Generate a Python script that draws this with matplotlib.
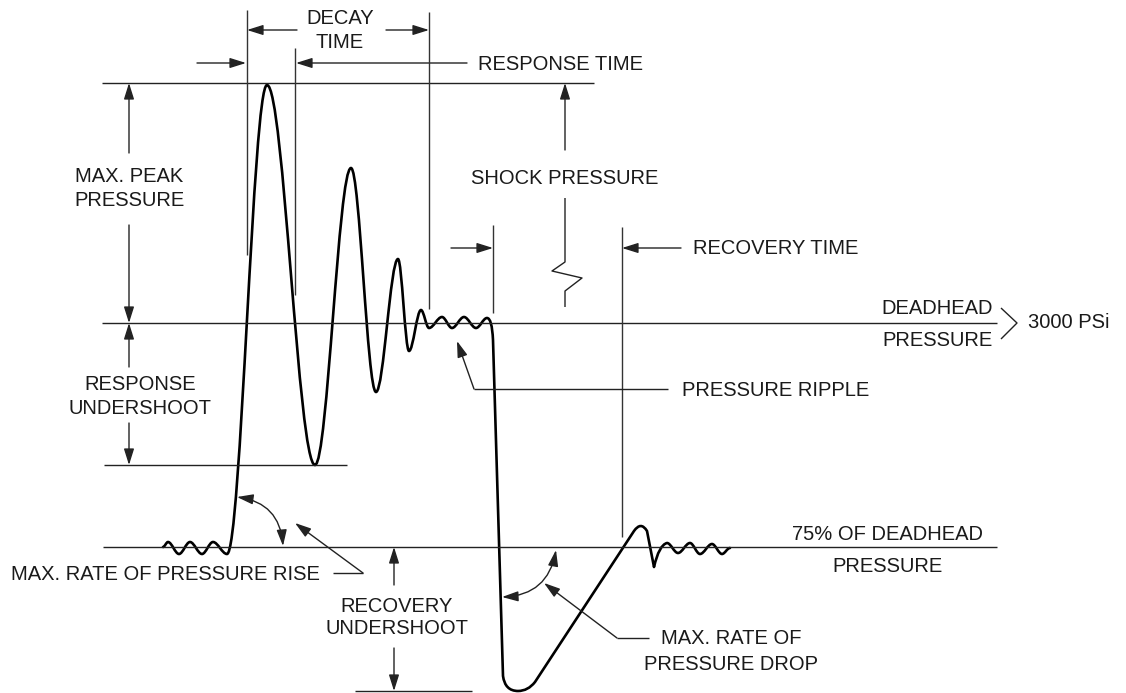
import numpy as np
import matplotlib
matplotlib.use('Agg')
import matplotlib.pyplot as plt
from matplotlib.path import Path
from matplotlib.patches import PathPatch, FancyArrowPatch

plt.rcParams['font.family'] = ['Liberation Sans', 'DejaVu Sans']

## pressure trace (image pixels, y down)
# kind: M move, S smooth half-wave, L line, C control point, Q end of quadratic
wave_x = [163, 168, 179, 190, 202, 213, 227, 267, 315, 351, 376, 398, 409, 421, 429,
          442, 452, 464, 476, 487, 492, 493, 503, 505, 518, 528, 535, 634, 641, 647,
          654, 659, 667, 678, 690, 700, 712, 722, 730]
wave_y = [547, 542, 554, 542, 554, 542, 554, 85, 465, 168, 392, 259, 351, 310, 328,
          317, 328, 317, 328, 318, 318, 340, 676, 691, 691, 691, 682, 531, 521, 531,
          567, 545, 543, 553, 543, 554, 544, 554, 548]
wave_kind = ['M', 'S', 'S', 'S', 'S', 'S', 'S', 'S', 'S', 'S', 'S', 'S', 'S', 'S', 'S',
             'S', 'S', 'S', 'S', 'S', 'C', 'Q', 'L', 'C', 'Q', 'C', 'Q', 'L', 'C', 'Q',
             'L', 'C', 'Q', 'S', 'S', 'S', 'S', 'S', 'S']

# reference levels (y) and their extents (x0, x1)
level_y = [83, 323, 465, 547, 691]
level_x0 = [102, 102, 104, 103, 355]
level_x1 = [594, 997, 347, 997, 472]

# vertical marker lines: x, y top, y bottom
vline_x = [247, 295, 429, 493, 622]
vline_top = [10, 48, 12, 225, 227]
vline_bot = [255, 295, 309, 313, 537]

TXT = '#1a1a1a'
FS = 14.5

fig = plt.figure(figsize=(11.26, 6.93), dpi=100)
ax = fig.add_axes([0, 0, 1, 1])
ax.set_xlim(0, 1126)
ax.set_ylim(693, 0)
ax.axis('off')


def arrow(x0, y0, x1, y1, style='-|>', rad=0.0, color='#222222'):
    a = FancyArrowPatch((x0, y0), (x1, y1),
                        arrowstyle=style + ',head_length=0.7,head_width=0.22',
                        connectionstyle='arc3,rad=%s' % rad,
                        mutation_scale=14, shrinkA=0, shrinkB=0,
                        lw=1.0, color=color)
    ax.add_patch(a)


def line(xs, ys, color='#222222', lw=1.0):
    ax.plot(xs, ys, color=color, lw=lw, solid_capstyle='butt')


# build the trace path
verts, codes = [], []
for i, k in enumerate(wave_kind):
    x, y = wave_x[i], wave_y[i]
    if k == 'M':
        verts.append((x, y)); codes.append(Path.MOVETO)
    elif k == 'L':
        verts.append((x, y)); codes.append(Path.LINETO)
    elif k in ('C', 'Q'):
        verts.append((x, y)); codes.append(Path.CURVE3)
    elif k == 'S':
        px, py = wave_x[i - 1], wave_y[i - 1]
        dx = x - px
        verts += [(px + 0.35 * dx, py), (x - 0.35 * dx, y), (x, y)]
        codes += [Path.CURVE4] * 3
ax.add_patch(PathPatch(Path(verts, codes), fill=False, lw=1.9, color='black',
                       joinstyle='round', capstyle='round'))

# levels and marker lines
for y, a, b in zip(level_y, level_x0, level_x1):
    line([a, b], [y, y])
for x, t, b in zip(vline_x, vline_top, vline_bot):
    line([x, x], [t, b], color='#333333')

# decay time / response time
arrow(297, 30, 247, 30)
arrow(386, 30, 429, 30)
ax.text(340, 18, 'DECAY', ha='center', va='center', fontsize=FS, color=TXT)
ax.text(340, 43, 'TIME', ha='center', va='center', fontsize=FS, color=TXT)
arrow(197, 63, 246, 63)
arrow(467, 63, 296, 63)
ax.text(478, 64, 'RESPONSE TIME', ha='left', va='center', fontsize=FS, color=TXT)

# max peak / response undershoot dimensions
arrow(129, 153, 129, 83)
arrow(129, 225, 129, 323)
ax.text(129, 177, 'MAX. PEAK', ha='center', va='center', fontsize=FS, color=TXT)
ax.text(129, 200, 'PRESSURE', ha='center', va='center', fontsize=FS, color=TXT)
arrow(129, 367, 129, 323)
arrow(129, 423, 129, 465)
ax.text(140, 385, 'RESPONSE', ha='center', va='center', fontsize=FS, color=TXT)
ax.text(140, 409, 'UNDERSHOOT', ha='center', va='center', fontsize=FS, color=TXT)

# shock pressure with break symbol
arrow(565, 150, 565, 83)
ax.text(565, 178, 'SHOCK PRESSURE', ha='center', va='center', fontsize=FS, color=TXT)
line([565, 565, 552, 582, 565, 565], [198, 262, 271, 278, 291, 307])

# recovery time
arrow(451, 248, 493, 248)
arrow(681, 248, 622, 248)
ax.text(693, 249, 'RECOVERY TIME', ha='left', va='center', fontsize=FS, color=TXT)

# deadhead
ax.text(937, 308, 'DEADHEAD', ha='center', va='center', fontsize=FS, color=TXT)
ax.text(937, 340, 'PRESSURE', ha='center', va='center', fontsize=FS, color=TXT)
line([1001, 1017, 1001], [308, 323, 339])
ax.text(1028, 323, '3000 PSi', ha='left', va='center', fontsize=FS, color=TXT)

# pressure ripple
line([668, 474], [389, 389])
arrow(474, 389, 457, 341)
ax.text(682, 390, 'PRESSURE RIPPLE', ha='left', va='center', fontsize=FS, color=TXT)

# rate of rise
arrow(237, 497, 283, 546, style='<|-|>', rad=-0.4)
line([333, 363], [573, 573])
arrow(363, 573, 295, 523)
ax.text(320, 575, 'MAX. RATE OF PRESSURE RISE', ha='right', va='center', fontsize=FS, color=TXT)

# 75% level
ax.text(887, 535, '75% OF DEADHEAD', ha='center', va='center', fontsize=FS, color=TXT)
ax.text(887, 567, 'PRESSURE', ha='center', va='center', fontsize=FS, color=TXT)

# recovery undershoot
arrow(394, 585, 394, 547)
arrow(394, 648, 394, 691)
ax.text(397, 607, 'RECOVERY', ha='center', va='center', fontsize=FS, color=TXT)
ax.text(397, 629, 'UNDERSHOOT', ha='center', va='center', fontsize=FS, color=TXT)

# rate of drop
arrow(502, 597, 556, 550, style='<|-|>', rad=0.4)
line([649, 617], [638, 638])
arrow(617, 638, 544, 583)
ax.text(731, 638, 'MAX. RATE OF', ha='center', va='center', fontsize=FS, color=TXT)
ax.text(731, 664, 'PRESSURE DROP', ha='center', va='center', fontsize=FS, color=TXT)

fig.savefig('out.png', dpi=100, facecolor='white')
